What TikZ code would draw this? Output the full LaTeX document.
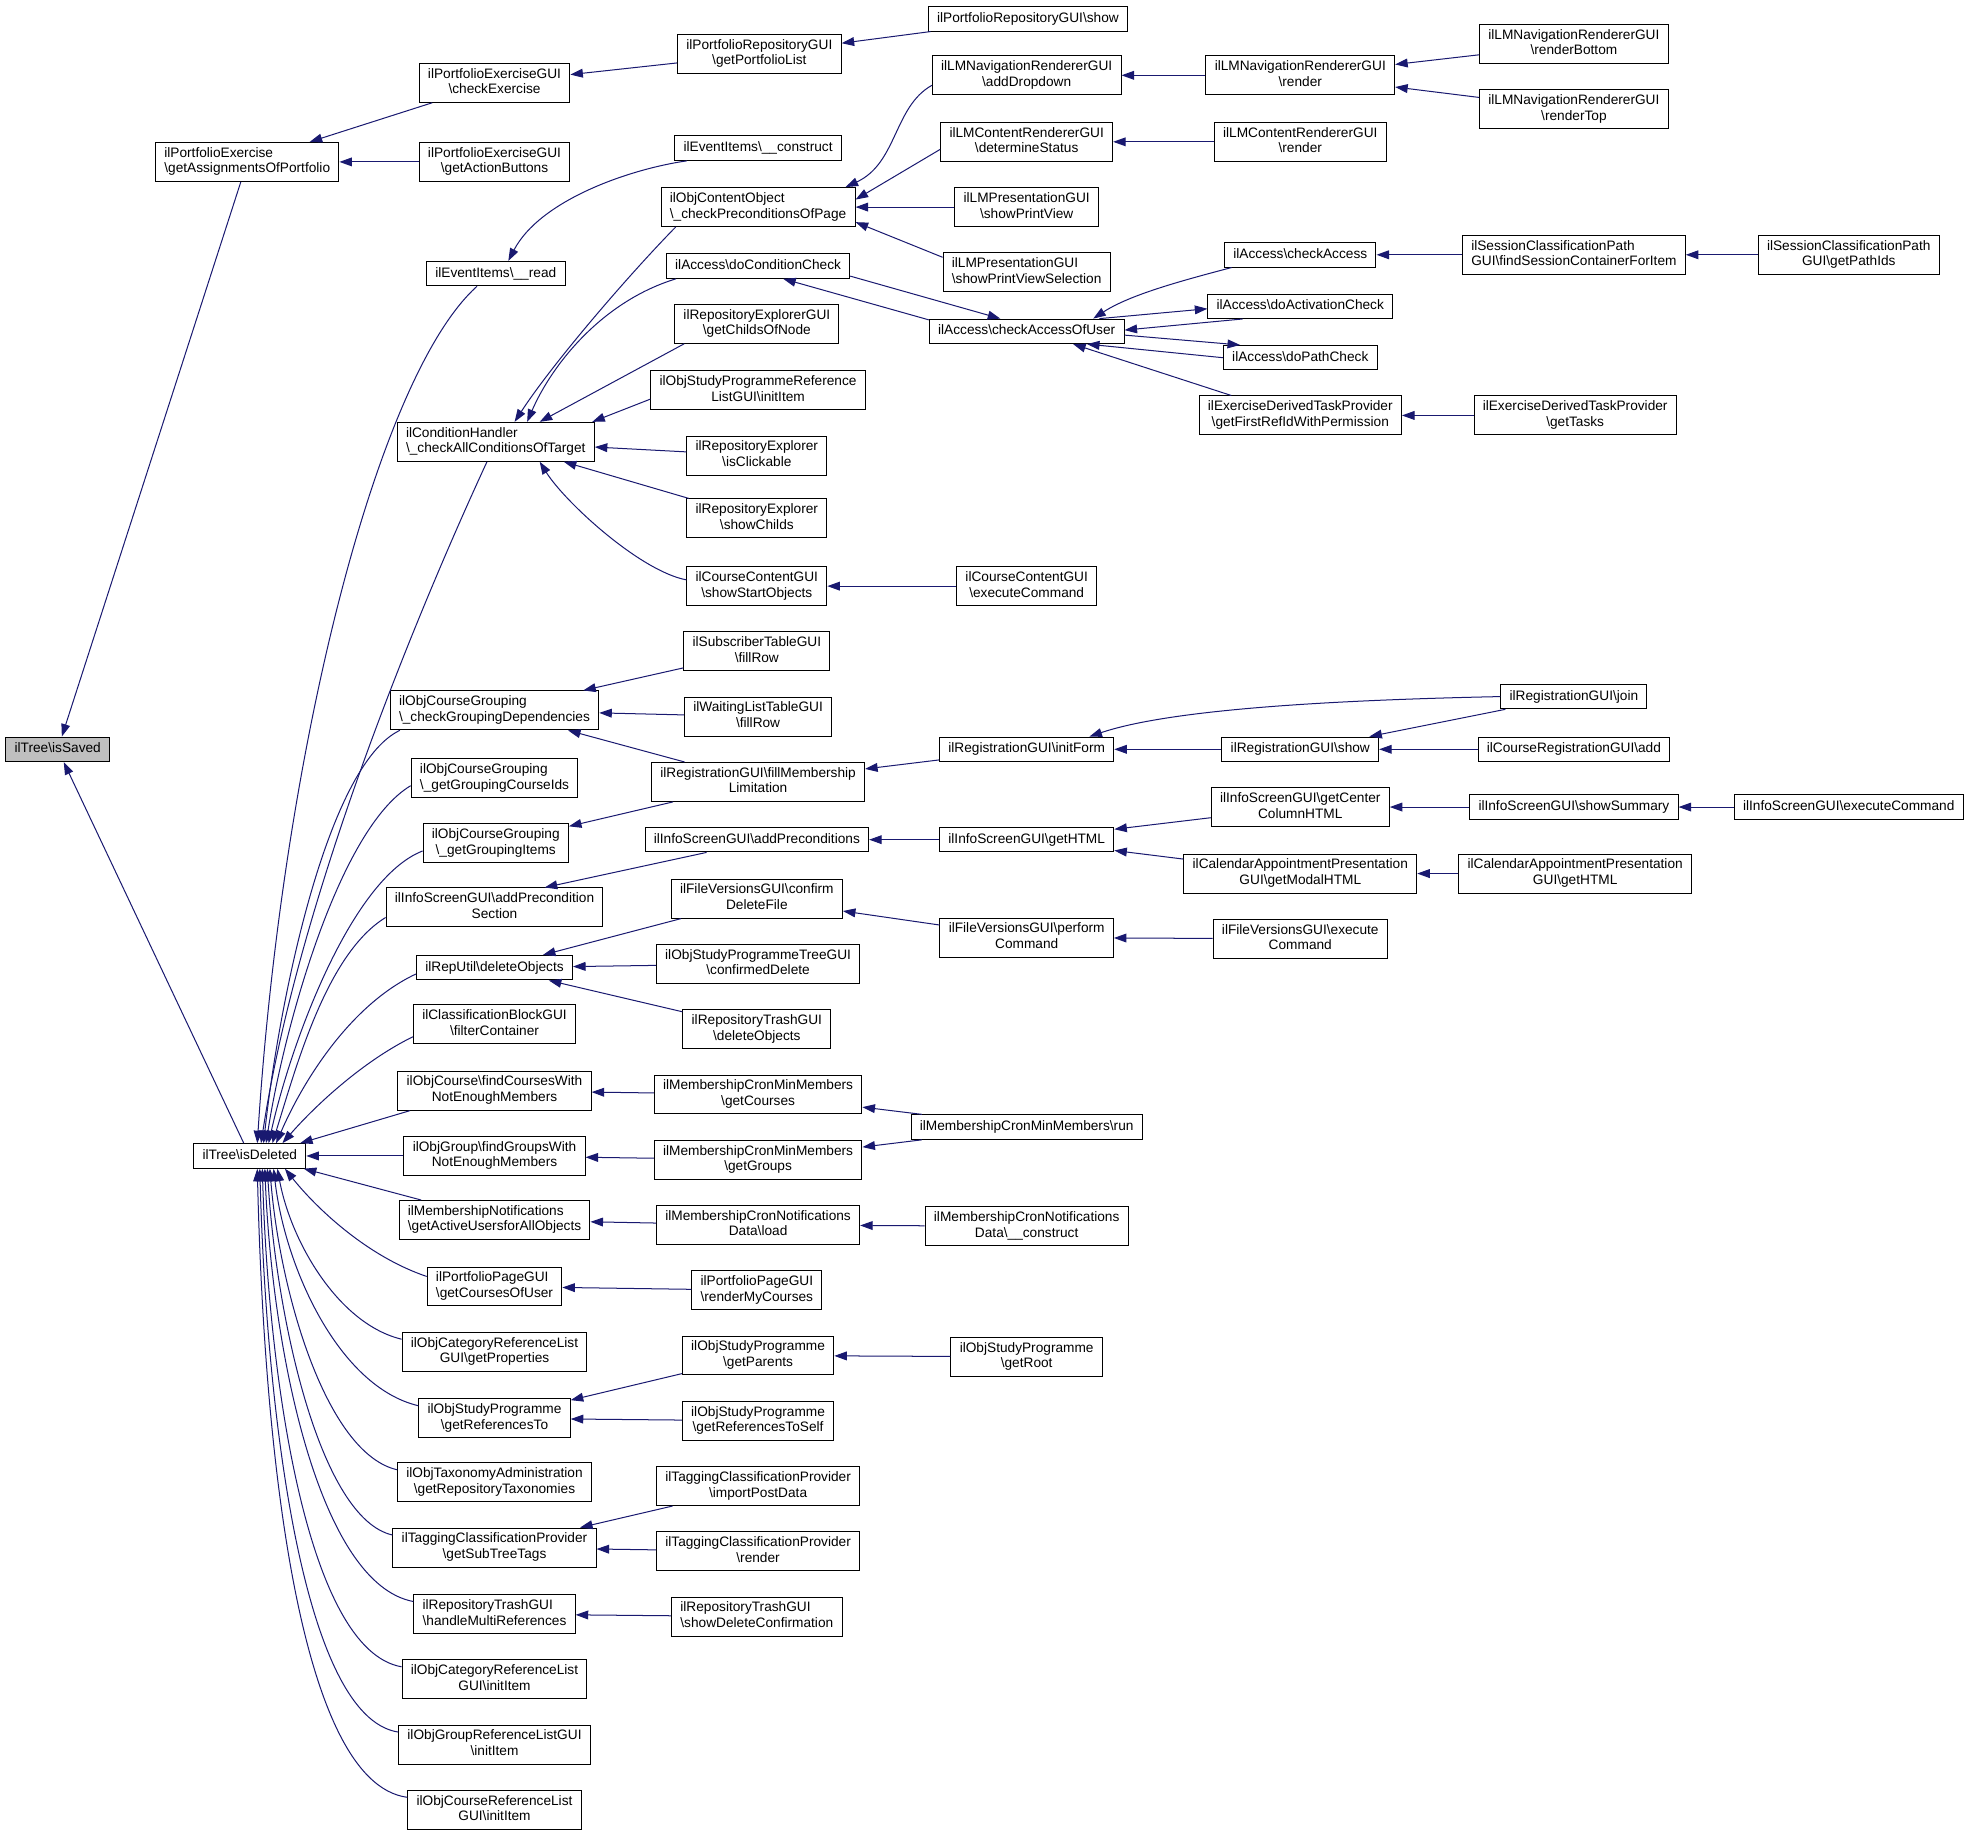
\documentclass[tikz,border=0pt]{standalone}
\usepackage{fontspec}
\setmainfont{Liberation Sans}
\usetikzlibrary{arrows.meta}
\definecolor{navy}{HTML}{191970}
\definecolor{selgray}{HTML}{BFBFBF}
\newcommand\BSL{\textbackslash}
\newcommand\TwoL[2]{\begin{tabular}{@{}l@{}}#1\\\hfill#2\hfill\mbox{}\end{tabular}}
\begin{document}
\begin{tikzpicture}[x=1pt,y=-1pt,
  bx/.style={draw=black, line width=0.8pt, fill=white, inner xsep=7pt, inner ysep=3pt,
     minimum height=19.5pt, font=\fontsize{10.9pt}{12.5pt}\selectfont},
  sg/.style={bx, text height=8.4pt, text depth=2.6pt},
  e/.style={draw=navy, line width=0.8pt, -{Triangle[length=10pt,width=7pt]}}]
\useasboundingbox (0,0) rectangle (1568,1464);
\fill[white] (0,0) rectangle (1568,1464);
% ---- nodes
\node[sg, fill=selgray] (sav) at (46,597) {ilTree\BSL isSaved};
\node[bx] (gap) at (197,129) {\TwoL{ilPortfolioExercise}{\BSL getAssignmentsOfPortfolio}};
\node[sg] (del) at (199,921) {ilTree\BSL isDeleted};
\node[bx] (chk) at (394,66) {\TwoL{ilPortfolioExerciseGUI}{\BSL checkExercise}};
\node[bx] (gab) at (394,129) {\TwoL{ilPortfolioExerciseGUI}{\BSL getActionButtons}};
\node[bx] (gpl) at (605,43) {\TwoL{ilPortfolioRepositoryGUI}{\BSL getPortfolioList}};
\node[sg] (psh) at (819,15) {ilPortfolioRepositoryGUI\BSL show};
\node[sg] (erd) at (395,218) {ilEventItems\BSL\_\_read};
\node[sg] (ecn) at (604,118) {ilEventItems\BSL\_\_construct};
\node[bx] (cht) at (395,352) {\TwoL{ilConditionHandler}{\BSL\_checkAllConditionsOfTarget}};
\node[bx] (cpp) at (604,165) {\TwoL{ilObjContentObject}{\BSL\_checkPreconditionsOfPage}};
\node[sg] (dcc) at (604,212) {ilAccess\BSL doConditionCheck};
\node[bx] (gcn) at (603,258) {\TwoL{ilRepositoryExplorerGUI}{\BSL getChildsOfNode}};
\node[bx] (spi) at (604,311) {\TwoL{ilObjStudyProgrammeReference}{ListGUI\BSL initItem}};
\node[bx] (icl) at (603,363) {\TwoL{ilRepositoryExplorer}{\BSL isClickable}};
\node[bx] (sch) at (603,413) {\TwoL{ilRepositoryExplorer}{\BSL showChilds}};
\node[bx] (sso) at (603,467) {\TwoL{ilCourseContentGUI}{\BSL showStartObjects}};
\node[bx] (cce) at (818,467) {\TwoL{ilCourseContentGUI}{\BSL executeCommand}};
\node[bx] (add) at (818,60) {\TwoL{ilLMNavigationRendererGUI}{\BSL addDropdown}};
\node[bx] (dst) at (818,113) {\TwoL{ilLMContentRendererGUI}{\BSL determineStatus}};
\node[bx] (spv) at (818,165) {\TwoL{ilLMPresentationGUI}{\BSL showPrintView}};
\node[bx] (sps) at (818,217) {\TwoL{ilLMPresentationGUI}{\BSL showPrintViewSelection}};
\node[sg] (cau) at (818,264) {ilAccess\BSL checkAccessOfUser};
\node[bx] (nrd) at (1036,60) {\TwoL{ilLMNavigationRendererGUI}{\BSL render}};
\node[bx] (crd) at (1036,113) {\TwoL{ilLMContentRendererGUI}{\BSL render}};
\node[bx] (rbt) at (1254,35) {\TwoL{ilLMNavigationRendererGUI}{\BSL renderBottom}};
\node[bx] (rtp) at (1254,87) {\TwoL{ilLMNavigationRendererGUI}{\BSL renderTop}};
\node[sg] (cac) at (1036,203) {ilAccess\BSL checkAccess};
\node[sg] (dac) at (1036,244) {ilAccess\BSL doActivationCheck};
\node[sg] (dpc) at (1036,285) {ilAccess\BSL doPathCheck};
\node[bx] (gfr) at (1036,331) {\TwoL{ilExerciseDerivedTaskProvider}{\BSL getFirstRefIdWithPermission}};
\node[bx] (gts) at (1255,331) {\TwoL{ilExerciseDerivedTaskProvider}{\BSL getTasks}};
\node[bx] (fsc) at (1254,203) {\TwoL{ilSessionClassificationPath}{GUI\BSL findSessionContainerForItem}};
\node[bx] (gpi) at (1473,203) {\TwoL{ilSessionClassificationPath}{GUI\BSL getPathIds}};
\node[bx] (cgd) at (394,566) {\TwoL{ilObjCourseGrouping}{\BSL\_checkGroupingDependencies}};
\node[bx] (gci) at (394,620) {\TwoL{ilObjCourseGrouping}{\BSL\_getGroupingCourseIds}};
\node[bx] (ggi) at (395,672) {\TwoL{ilObjCourseGrouping}{\BSL\_getGroupingItems}};
\node[bx] (aps) at (394,723) {\TwoL{ilInfoScreenGUI\BSL addPrecondition}{Section}};
\node[sg] (rdo) at (394,771) {ilRepUtil\BSL deleteObjects};
\node[bx] (cfc) at (394,816) {\TwoL{ilClassificationBlockGUI}{\BSL filterContainer}};
\node[bx] (fcw) at (394,869) {\TwoL{ilObjCourse\BSL findCoursesWith}{NotEnoughMembers}};
\node[bx] (fgw) at (394,921) {\TwoL{ilObjGroup\BSL findGroupsWith}{NotEnoughMembers}};
\node[bx] (gau) at (394,972) {\TwoL{ilMembershipNotifications}{\BSL getActiveUsersforAllObjects}};
\node[bx] (gcu) at (394,1025) {\TwoL{ilPortfolioPageGUI}{\BSL getCoursesOfUser}};
\node[bx] (gpr) at (394,1077) {\TwoL{ilObjCategoryReferenceList}{GUI\BSL getProperties}};
\node[bx] (grt) at (394,1130) {\TwoL{ilObjStudyProgramme}{\BSL getReferencesTo}};
\node[bx] (grx) at (394,1181) {\TwoL{ilObjTaxonomyAdministration}{\BSL getRepositoryTaxonomies}};
\node[bx] (gst) at (394,1233) {\TwoL{ilTaggingClassificationProvider}{\BSL getSubTreeTags}};
\node[bx] (hmr) at (394,1286) {\TwoL{ilRepositoryTrashGUI}{\BSL handleMultiReferences}};
\node[bx] (ici) at (394,1338) {\TwoL{ilObjCategoryReferenceList}{GUI\BSL initItem}};
\node[bx] (igi) at (394,1390) {\TwoL{ilObjGroupReferenceListGUI}{\BSL initItem}};
\node[bx] (iki) at (394,1442) {\TwoL{ilObjCourseReferenceList}{GUI\BSL initItem}};
\node[bx] (sfr) at (603,519) {\TwoL{ilSubscriberTableGUI}{\BSL fillRow}};
\node[bx] (wfr) at (604,571) {\TwoL{ilWaitingListTableGUI}{\BSL fillRow}};
\node[bx] (fml) at (604,623) {\TwoL{ilRegistrationGUI\BSL fillMembership}{Limitation}};
\node[sg] (apr) at (603,669) {ilInfoScreenGUI\BSL addPreconditions};
\node[bx] (cdf) at (603,716) {\TwoL{ilFileVersionsGUI\BSL confirm}{DeleteFile}};
\node[bx] (cdl) at (604,768) {\TwoL{ilObjStudyProgrammeTreeGUI}{\BSL confirmedDelete}};
\node[bx] (tdo) at (603,820) {\TwoL{ilRepositoryTrashGUI}{\BSL deleteObjects}};
\node[bx] (mgc) at (604,872) {\TwoL{ilMembershipCronMinMembers}{\BSL getCourses}};
\node[bx] (mgg) at (604,924) {\TwoL{ilMembershipCronMinMembers}{\BSL getGroups}};
\node[bx] (nld) at (604,976) {\TwoL{ilMembershipCronNotifications}{Data\BSL load}};
\node[bx] (rmc) at (603,1028) {\TwoL{ilPortfolioPageGUI}{\BSL renderMyCourses}};
\node[bx] (gpa) at (604,1080) {\TwoL{ilObjStudyProgramme}{\BSL getParents}};
\node[bx] (grs) at (604,1132) {\TwoL{ilObjStudyProgramme}{\BSL getReferencesToSelf}};
\node[bx] (ipd) at (604,1184) {\TwoL{ilTaggingClassificationProvider}{\BSL importPostData}};
\node[bx] (trd) at (604,1236) {\TwoL{ilTaggingClassificationProvider}{\BSL render}};
\node[bx] (sdc) at (603,1288) {\TwoL{ilRepositoryTrashGUI}{\BSL showDeleteConfirmation}};
\node[sg] (ifm) at (818,597) {ilRegistrationGUI\BSL initForm};
\node[sg] (rsh) at (1036,597) {ilRegistrationGUI\BSL show};
\node[sg] (rjn) at (1254,555) {ilRegistrationGUI\BSL join};
\node[sg] (cra) at (1254,597) {ilCourseRegistrationGUI\BSL add};
\node[sg] (ghm) at (818,669) {ilInfoScreenGUI\BSL getHTML};
\node[bx] (gcc) at (1036,643) {\TwoL{ilInfoScreenGUI\BSL getCenter}{ColumnHTML}};
\node[bx] (gmh) at (1036,696) {\TwoL{ilCalendarAppointmentPresentation}{GUI\BSL getModalHTML}};
\node[sg] (ssm) at (1254,643) {ilInfoScreenGUI\BSL showSummary};
\node[sg] (iec) at (1473,643) {ilInfoScreenGUI\BSL executeCommand};
\node[bx] (cgh) at (1255,696) {\TwoL{ilCalendarAppointmentPresentation}{GUI\BSL getHTML}};
\node[bx] (fpc) at (818,747) {\TwoL{ilFileVersionsGUI\BSL perform}{Command}};
\node[bx] (fec) at (1036,748) {\TwoL{ilFileVersionsGUI\BSL execute}{Command}};
\node[sg] (mrn) at (818,898) {ilMembershipCronMinMembers\BSL run};
\node[bx] (ncn) at (818,977) {\TwoL{ilMembershipCronNotifications}{Data\BSL\_\_construct}};
\node[bx] (grr) at (818,1081) {\TwoL{ilObjStudyProgramme}{\BSL getRoot}};
% ---- edges
\draw[e] (gap) -- (sav);
\draw[e] (del) -- (sav);
\draw[e] (chk) -- (gap);
\draw[e] (gab) -- (gap);
\draw[e] (gpl) -- (chk);
\draw[e] (psh) -- (gpl);
\draw[e] ([xshift=10pt]ecn.south west) .. controls (500,135) and (430,160) .. ([xshift=10pt]erd.north);
% fan into isDeleted (above)
\draw[e] ([xshift=-15pt]erd.south) .. controls (300,300) and (225,600) .. ([xshift=6pt]del.north);
\draw[e] ([xshift=-7pt]cht.south) .. controls (350,450) and (240,700) .. ([xshift=9pt]del.north);
\draw[e] ([xshift=8pt]cgd.south west) .. controls (260,610) and (222,800) .. ([xshift=11pt]del.north);
\draw[e] ([yshift=-6pt]gci.west) .. controls (270,660) and (226,820) .. ([xshift=13pt]del.north);
\draw[e] ([yshift=-6pt]ggi.west) .. controls (280,700) and (232,830) .. ([xshift=15pt]del.north);
\draw[e] ([yshift=-8pt]aps.west) .. controls (260,760) and (236,850) .. ([xshift=18pt]del.north);
\draw[e] ([yshift=-5pt]rdo.west) .. controls (280,800) and (242,860) .. ([xshift=21pt]del.north);
\draw[e] ([yshift=-10pt]cfc.west) .. controls (290,845) and (252,880) .. ([xshift=26pt]del.north);
\draw[e] ([xshift=10pt]fcw.south west) -- ([xshift=-5pt]del.north east);
\draw[e] (fgw) -- (del);
\draw[e] ([xshift=18pt]gau.north west) -- ([xshift=-2pt]del.south east);
% fan into isDeleted (below)
\draw[e] ([yshift=8pt]gcu.west) .. controls (290,1000) and (250,960) .. ([xshift=28pt]del.south);
\draw[e] ([yshift=10pt]gpr.west) .. controls (270,1055) and (232,990) .. ([xshift=22pt]del.south);
\draw[e] ([yshift=10pt]grt.west) .. controls (270,1105) and (227,1010) .. ([xshift=19pt]del.south);
\draw[e] ([yshift=10pt]grx.west) .. controls (260,1158) and (223,1030) .. ([xshift=16pt]del.south);
\draw[e] ([yshift=10pt]gst.west) .. controls (255,1210) and (220,1050) .. ([xshift=14pt]del.south);
\draw[e] ([yshift=10pt]hmr.west) .. controls (255,1262) and (217,1080) .. ([xshift=12pt]del.south);
\draw[e] ([yshift=10pt]ici.west) .. controls (245,1315) and (214,1100) .. ([xshift=10pt]del.south);
\draw[e] ([yshift=10pt]igi.west) .. controls (240,1368) and (212,1120) .. ([xshift=8pt]del.south);
\draw[e] ([yshift=10pt]iki.west) .. controls (235,1420) and (210,1140) .. ([xshift=6pt]del.south);
% condition handler
\draw[e] ([xshift=12pt]cpp.south west) .. controls (500,220) and (440,290) .. ([xshift=15pt]cht.north);
\draw[e] ([xshift=8pt]dcc.south west) .. controls (480,240) and (440,290) .. ([xshift=25pt]cht.north);
\draw[e] ([xshift=8pt]gcn.south west) -- ([xshift=35pt]cht.north);
\draw[e] ([yshift=-7pt]spi.west) -- ([xshift=-2pt]cht.north east);
\draw[e] (icl) -- (cht);
\draw[e] (sch) -- (cht);
\draw[e] ([yshift=5pt]sso.west) .. controls (510,455) and (450,400) .. ([xshift=35pt]cht.south);
\draw[e] (cce) -- (sso);
% content object
\draw[e] ([yshift=-8pt]add.west) .. controls (712,85) and (715,130) .. ([xshift=-8pt]cpp.north east);
\draw[e] ([yshift=-6pt]dst.west) -- ([yshift=6pt]cpp.east);
\draw[e] (spv) -- (cpp);
\draw[e] ([yshift=12pt]sps.west) -- ([yshift=-12pt]cpp.east);
\draw[e] (nrd) -- (add);
\draw[e] (rbt) -- (nrd);
\draw[e] (rtp) -- (nrd);
\draw[e] (crd) -- (dst);
% access
\draw[e] ([yshift=-8pt]dcc.east) -- ([xshift=-21pt]cau.north);
\draw[e] ([yshift=-1pt]cau.north west) -- ([xshift=20pt]dcc.south);
\draw[e] ([xshift=6pt]cac.south west) .. controls (940,224) and (900,235) .. ([xshift=53pt]cau.north);
\draw[e] ([xshift=58pt]cau.north) -- ([yshift=-2pt]dac.west);
\draw[e] ([xshift=-46pt]dac.south) -- ([yshift=1pt]cau.east);
\draw[e] ([yshift=-3pt]cau.east) -- ([xshift=-48pt]dpc.north);
\draw[e] (dpc.west) -- ([xshift=48pt]cau.south);
\draw[e] ([xshift=-55pt]gfr.north) -- ([xshift=37pt]cau.south);
\draw[e] (fsc) -- (cac);
\draw[e] (gpi) -- (fsc);
\draw[e] (gts) -- (gfr);
% grouping / registration
\draw[e] (sfr) -- (cgd);
\draw[e] (wfr) -- (cgd);
\draw[e] (fml) -- (cgd);
\draw[e] (fml) -- (ggi);
\draw[e] (ifm) -- (fml);
\draw[e] (rsh) -- (ifm);
\draw[e] (rjn.west) .. controls (1050,558) and (930,566) .. ([xshift=50pt]ifm.north);
\draw[e] ([xshift=4pt]rjn.south west) -- ([xshift=55pt]rsh.north);
\draw[e] (cra) -- (rsh);
% info screen
\draw[e] ([xshift=-40pt]apr.south) -- ([xshift=40pt]aps.north);
\draw[e] (ghm) -- (apr);
\draw[e] (gcc) -- (ghm);
\draw[e] (gmh) -- (ghm);
\draw[e] (ssm) -- (gcc);
\draw[e] (iec) -- (ssm);
\draw[e] (cgh) -- (gmh);
% rep util
\draw[e] (cdf) -- (rdo);
\draw[e] (cdl) -- (rdo);
\draw[e] (tdo) -- (rdo);
\draw[e] (fpc) -- (cdf);
\draw[e] (fec) -- (fpc);
% membership etc.
\draw[e] (mgc) -- (fcw);
\draw[e] (mgg) -- (fgw);
\draw[e] (mrn) -- (mgc);
\draw[e] (mrn) -- (mgg);
\draw[e] (nld) -- (gau);
\draw[e] (ncn) -- (nld);
\draw[e] (rmc) -- (gcu);
\draw[e] (gpa) -- (grt);
\draw[e] (grs) -- (grt);
\draw[e] (grr) -- (gpa);
\draw[e] (ipd) -- (gst);
\draw[e] (trd) -- (gst);
\draw[e] (sdc) -- (hmr);
\end{tikzpicture}
\end{document}
